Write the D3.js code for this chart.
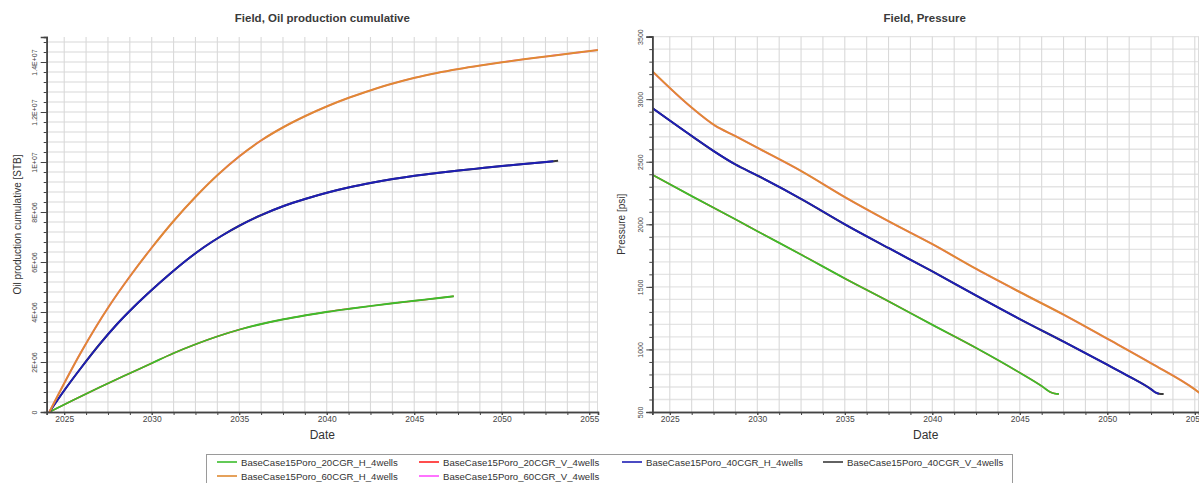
<!DOCTYPE html>
<html>
<head>
<meta charset="utf-8">
<script src="https://cdn.jsdelivr.net/npm/d3@7"></script>
<style>
  body { margin: 0; background: #fff; }
  svg { display: block; }
  text { font-family: "Liberation Sans", Arial, sans-serif; }
</style>
</head>
<body>
<svg id="chart" width="1199" height="483"></svg>
<script>
// ---- Series: [year, cumulative oil in million STB] ----
const oil_20CGR_H = [[2024.15,0],[2025.5,0.47],[2027.0,0.98],[2028.5,1.47],[2030.0,1.95],[2031.24,2.35],[2032.51,2.71],[2033.78,3.03],[2035.03,3.3],[2036.27,3.52],[2037.54,3.71],[2038.81,3.87],[2040.06,4.01],[2041.3,4.13],[2042.57,4.245],[2043.78,4.35],[2045.03,4.45],[2046.29,4.55],[2047.26,4.63]];
const oil_20CGR_V = [[2024.15,0],[2025.5,0.47],[2027.0,0.98],[2028.5,1.47],[2030.0,1.95],[2031.24,2.35],[2032.51,2.71],[2033.78,3.03],[2035.03,3.3],[2036.27,3.52],[2037.54,3.71],[2038.81,3.87],[2040.06,4.01],[2041.3,4.13],[2042.57,4.245],[2043.78,4.35],[2045.03,4.45],[2046.29,4.55],[2047.26,4.63]];
const oil_40CGR_H = [[2024.15,0],[2025.0,0.86],[2026.0,1.8],[2027.0,2.69],[2028.0,3.5],[2029.0,4.22],[2030.0,4.88],[2031.0,5.5],[2032.0,6.08],[2033.0,6.6],[2034.0,7.05],[2035.03,7.46],[2036.27,7.88],[2037.54,8.24],[2038.81,8.53],[2040.06,8.78],[2041.3,8.99],[2042.57,9.17],[2043.78,9.32],[2045.03,9.45],[2046.29,9.56],[2047.54,9.66],[2048.77,9.75],[2050.02,9.84],[2051.26,9.92],[2052.53,10.0],[2052.95,10.03]];
const oil_40CGR_V = [[2024.15,0],[2025.0,0.86],[2026.0,1.8],[2027.0,2.69],[2028.0,3.5],[2029.0,4.22],[2030.0,4.88],[2031.0,5.5],[2032.0,6.08],[2033.0,6.6],[2034.0,7.05],[2035.03,7.46],[2036.27,7.88],[2037.54,8.24],[2038.81,8.53],[2040.06,8.78],[2041.3,8.99],[2042.57,9.17],[2043.78,9.32],[2045.03,9.45],[2046.29,9.56],[2047.54,9.66],[2048.77,9.75],[2050.02,9.84],[2051.26,9.92],[2052.53,10.0],[2052.95,10.03],[2053.22,10.05]];
const oil_60CGR_H = [[2024.15,0],[2025.97,2.4],[2027.58,4.25],[2028.73,5.4],[2030.0,6.57],[2031.24,7.63],[2032.51,8.61],[2033.78,9.49],[2035.03,10.24],[2036.27,10.87],[2037.54,11.4],[2038.81,11.85],[2040.06,12.24],[2041.3,12.58],[2042.57,12.88],[2043.78,13.14],[2045.03,13.37],[2046.29,13.56],[2047.54,13.72],[2048.77,13.86],[2050.02,13.99],[2051.26,14.11],[2052.53,14.22],[2053.78,14.33],[2055.05,14.44],[2055.5,14.48]];
const oil_60CGR_V = [[2024.15,0],[2025.97,2.4],[2027.58,4.25],[2028.73,5.4],[2030.0,6.57],[2031.24,7.63],[2032.51,8.61],[2033.78,9.49],[2035.03,10.24],[2036.27,10.87],[2037.54,11.4],[2038.81,11.85],[2040.06,12.24],[2041.3,12.58],[2042.57,12.88],[2043.78,13.14],[2045.03,13.37],[2046.29,13.56],[2047.54,13.72],[2048.77,13.86],[2050.02,13.99],[2051.26,14.11],[2052.53,14.22],[2053.78,14.33],[2055.05,14.44],[2055.5,14.48]];

// ---- Series: [year, field pressure in psi] ----
const p_20CGR_H = [[2024.0,2396],[2026.28,2223],[2028.75,2040],[2030.0,1945],[2032.54,1755],[2035.03,1565],[2037.52,1383],[2040.01,1196],[2042.54,1009],[2045.02,812],[2046.27,705],[2046.73,660],[2047.0,647],[2047.23,644]];
const p_20CGR_V = [[2024.0,2396],[2026.28,2223],[2028.75,2040],[2030.0,1945],[2032.54,1755],[2035.03,1565],[2037.52,1383],[2040.01,1196],[2042.54,1009],[2045.02,812],[2046.27,705],[2046.73,660],[2047.0,647],[2047.23,644]];
const p_40CGR_H = [[2024.0,2929],[2026.28,2703],[2027.51,2585],[2028.75,2478],[2030.0,2390],[2032.54,2200],[2035.03,1998],[2037.52,1809],[2040.01,1623],[2042.54,1428],[2045.02,1241],[2047.53,1060],[2050.02,876],[2051.26,783],[2052.51,681],[2052.75,656],[2052.95,646]];
const p_40CGR_V = [[2024.0,2929],[2026.28,2703],[2027.51,2585],[2028.75,2478],[2030.0,2390],[2032.54,2200],[2035.03,1998],[2037.52,1809],[2040.01,1623],[2042.54,1428],[2045.02,1241],[2047.53,1060],[2050.02,876],[2051.26,783],[2052.51,681],[2052.75,656],[2052.95,646],[2053.22,644]];
const p_60CGR_H = [[2024.0,3223],[2026.28,2929],[2027.59,2788],[2028.75,2705],[2030.0,2612],[2032.54,2423],[2035.03,2215],[2037.52,2023],[2040.01,1841],[2042.54,1641],[2045.02,1457],[2047.53,1276],[2050.02,1084],[2052.51,889],[2055.0,681],[2055.3,650]];
const p_60CGR_V = [[2024.0,3223],[2026.28,2929],[2027.59,2788],[2028.75,2705],[2030.0,2612],[2032.54,2423],[2035.03,2215],[2037.52,2023],[2040.01,1841],[2042.54,1641],[2045.02,1457],[2047.53,1276],[2050.02,1084],[2052.51,889],[2055.0,681],[2055.3,650]];

// ---- Case names and tick labels ----
const caseNames = ["BaseCase15Poro_20CGR_H_4wells","BaseCase15Poro_20CGR_V_4wells","BaseCase15Poro_40CGR_H_4wells","BaseCase15Poro_40CGR_V_4wells","BaseCase15Poro_60CGR_H_4wells","BaseCase15Poro_60CGR_V_4wells"];
const yearTicks = [2025, 2030, 2035, 2040, 2045, 2050, 2055];
const oilTicks = [0, 2, 4, 6, 8, 10, 12, 14];
const oilTickLabels = ["0", "2E+06", "4E+06", "6E+06", "8E+06", "1E+07", "1.2E+07", "1.4E+07"];
const pressureTicks = [500, 1000, 1500, 2000, 2500, 3000, 3500];

const caseStyle = {
  "BaseCase15Poro_20CGR_H_4wells": { color: "#3cbd2c", width: 1.8 },
  "BaseCase15Poro_20CGR_V_4wells": { color: "#ff2020", width: 1.5 },
  "BaseCase15Poro_40CGR_H_4wells": { color: "#1e1eb4", width: 1.9 },
  "BaseCase15Poro_40CGR_V_4wells": { color: "#3a3a3a", width: 2.0 },
  "BaseCase15Poro_60CGR_H_4wells": { color: "#df8a32", width: 2.0 },
  "BaseCase15Poro_60CGR_V_4wells": { color: "#ff50ff", width: 1.7 }
};
// drawing order: V twins sit beneath their H counterparts
const drawOrder = [1, 0, 3, 2, 5, 4];

const svg = d3.select("#chart");

const panels = [
  {
    id: "oil",
    title: "Field, Oil production cumulative",
    yTitle: "Oil production cumulative [STB]",
    left: 46.7, right: 598, top: 37, bottom: 412,
    xDomain: [2024, 2055.5],
    yDomain: [0, 15],
    yTicks: oilTicks,
    yFormat: (d, i) => oilTickLabels[i],
    yMinorStep: 0.4,
    yLabelX: 37,
    yTitleX: 21,
    data: [oil_20CGR_H, oil_20CGR_V, oil_40CGR_H, oil_40CGR_V, oil_60CGR_H, oil_60CGR_V]
  },
  {
    id: "pres",
    title: "Field, Pressure",
    yTitle: "Pressure [psi]",
    left: 652.3, right: 1199, top: 36.6, bottom: 412,
    xDomain: [2024, 2055.24],
    yDomain: [500, 3500],
    yTicks: pressureTicks,
    yFormat: d => String(d),
    yMinorStep: 100,
    yLabelX: 642.5,
    yTitleX: 625,
    data: [p_20CGR_H, p_20CGR_V, p_40CGR_H, p_40CGR_V, p_60CGR_H, p_60CGR_V]
  }
];

panels.forEach(p => {
  const x = d3.scaleLinear().domain(p.xDomain).range([p.left, p.right]);
  const y = d3.scaleLinear().domain(p.yDomain).range([p.bottom, p.top]);
  const g = svg.append("g");

  // grid
  const xMinor = d3.range(2023.75, p.xDomain[1] + 0.001, 1.25).filter(v => v > p.xDomain[0]);
  const yMinor = d3.range(p.yDomain[0], p.yDomain[1] + p.yMinorStep / 2, p.yMinorStep).map(v => +v.toFixed(4));
  g.append("g").selectAll("line").data(yMinor.slice(1)).join("line")
    .attr("x1", p.left).attr("x2", p.right)
    .attr("y1", d => y(d)).attr("y2", d => y(d))
    .attr("stroke", "#e4e4e4").attr("stroke-width", 1.4);
  g.append("g").selectAll("line").data(xMinor).join("line")
    .attr("x1", d => x(d)).attr("x2", d => x(d))
    .attr("y1", p.top).attr("y2", p.bottom)
    .attr("stroke", "#d9d9d9").attr("stroke-width", 1.1);
  g.append("line")
    .attr("x1", p.right - 0.5).attr("x2", p.right - 0.5)
    .attr("y1", p.top).attr("y2", p.bottom)
    .attr("stroke", "#dcdcdc").attr("stroke-width", 1);

  // series
  const clipId = "clip-" + p.id;
  svg.append("clipPath").attr("id", clipId).append("rect")
    .attr("x", p.left).attr("y", p.top - 2)
    .attr("width", p.right - p.left).attr("height", p.bottom - p.top + 2);
  const line = d3.line().x(d => x(d[0])).y(d => y(d[1])).curve(d3.curveMonotoneX);
  const lines = g.append("g").attr("clip-path", `url(#${clipId})`);
  drawOrder.forEach(i => {
    const st = caseStyle[caseNames[i]];
    lines.append("path").datum(p.data[i])
      .attr("d", line)
      .attr("fill", "none")
      .attr("stroke", st.color)
      .attr("stroke-width", st.width)
      .attr("stroke-linejoin", "round");
  });

  // x axis: minor ticks then labelled major ticks
  const xAxisMinor = d3.axisBottom(x).tickValues(xMinor).tickSize(3).tickFormat("");
  const xAxis = d3.axisBottom(x).tickValues(yearTicks).tickSize(3).tickFormat(d3.format("d"));
  const gxm = g.append("g").attr("transform", `translate(0,${p.bottom})`).call(xAxisMinor);
  const gx = g.append("g").attr("transform", `translate(0,${p.bottom})`).call(xAxis);
  [gxm, gx].forEach(a => {
    a.select(".domain").attr("stroke", "#444").attr("stroke-width", 1.4);
    a.selectAll(".tick line").attr("stroke", "#444");
  });
  gx.selectAll(".tick text").attr("font-size", "8.5px").attr("fill", "#444").attr("dy", "0.6em").attr("y", 5);

  // y axis
  const yAxisMinor = d3.axisLeft(y).tickValues(yMinor).tickSize(3).tickFormat("");
  const yAxis = d3.axisLeft(y).tickValues(p.yTicks).tickSize(6).tickFormat(p.yFormat);
  const gym = g.append("g").attr("transform", `translate(${p.left},0)`).call(yAxisMinor);
  const gy = g.append("g").attr("transform", `translate(${p.left},0)`).call(yAxis);
  [gym, gy].forEach(a => {
    a.select(".domain").attr("stroke", "#444").attr("stroke-width", 1.6);
    a.selectAll(".tick line").attr("stroke", "#444");
  });
  gy.selectAll(".tick text")
    .attr("font-size", "7px").attr("fill", "#444")
    .attr("text-anchor", "middle").attr("x", null).attr("dy", null)
    .attr("transform", `translate(${p.yLabelX - p.left},0) rotate(-90)`);

  // titles
  g.append("text")
    .attr("x", (p.left + p.right) / 2 + (p.id === "pres" ? -1 : 0)).attr("y", 22)
    .attr("text-anchor", "middle").attr("font-size", "11.5px").attr("font-weight", "bold").attr("fill", "#3a3a3a")
    .text(p.title);
  g.append("text")
    .attr("x", (p.left + p.right) / 2).attr("y", 439)
    .attr("text-anchor", "middle").attr("font-size", "12px").attr("fill", "#333")
    .text("Date");
  g.append("text")
    .attr("transform", `translate(${p.yTitleX},${(p.top + p.bottom) / 2}) rotate(-90)`)
    .attr("text-anchor", "middle").attr("font-size", "10px").attr("fill", "#333")
    .text(p.yTitle);
});

// legend
const legend = svg.append("g");
legend.append("rect")
  .attr("x", 206.5).attr("y", 454.5).attr("width", 806).attr("height", 40)
  .attr("fill", "#fff").attr("stroke", "#9a9a9a").attr("stroke-width", 1);
const legendCols = [217, 419, 622, 823];
const legendRows = [462, 476];
// four entries per row
caseNames.forEach((name, i) => {
  const cx = legendCols[i % 4], cy = legendRows[Math.floor(i / 4)];
  const st = caseStyle[name];
  legend.append("line")
    .attr("x1", cx).attr("x2", cx + 20).attr("y1", cy).attr("y2", cy)
    .attr("stroke", st.color).attr("stroke-width", 1.6);
  legend.append("text")
    .attr("x", cx + 24).attr("y", cy + 3.5)
    .attr("font-size", "9.6px").attr("fill", "#333")
    .text(name);
});
</script>
</body>
</html>
